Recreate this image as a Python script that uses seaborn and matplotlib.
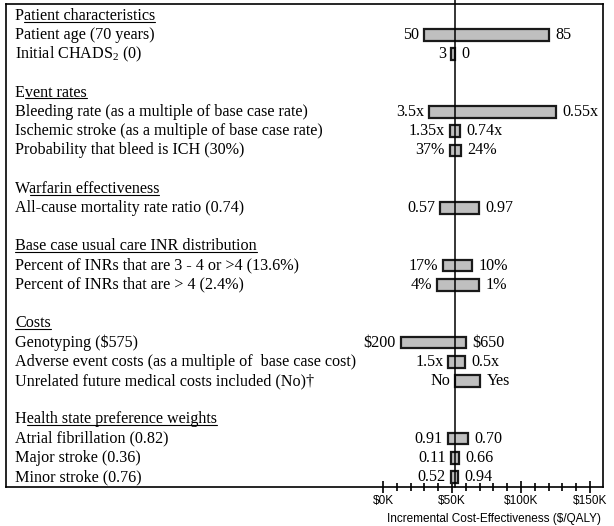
import numpy as np
import pandas as pd
import matplotlib
matplotlib.use("Agg")
import matplotlib.pyplot as plt
from matplotlib.lines import Line2D
import seaborn as sns

# one-way sensitivity analysis (tornado), ICER in thousand $/QALY
groups = ["Patient characteristics", "Event rates", "Warfarin effectiveness",
          "Base case usual care INR distribution", "Costs",
          "Health state preference weights"]
group_size = [2, 3, 1, 2, 3, 3]
params = ["Patient age (70 years)",
          r"Initial CHADS$_{\mathregular{2}}$ (0)",
          "Bleeding rate (as a multiple of base case rate)",
          "Ischemic stroke (as a multiple of base case rate)",
          "Probability that bleed is ICH (30%)",
          "All-cause mortality rate ratio (0.74)",
          "Percent of INRs that are 3 - 4 or >4 (13.6%)",
          "Percent of INRs that are > 4 (2.4%)",
          r"Genotyping (\$575)",
          "Adverse event costs (as a multiple of  base case cost)",
          "Unrelated future medical costs included (No)\u2020",
          "Atrial fibrillation (0.82)",
          "Major stroke (0.36)",
          "Minor stroke (0.76)"]
icer_lo = [29.5, 49.2, 33.2, 48.4, 48.4, 41.2, 43.7, 39.3, 12.7, 47.3, 52.2, 46.8, 49.0, 49.0]
icer_hi = [120.6, 52.2, 125.7, 56.1, 56.6, 69.9, 64.6, 69.4, 60.3, 59.5, 70.6, 61.9, 54.9, 54.2]
lo_text = ["50", "3", "3.5x", "1.35x", "37%", "0.57", "17%", "4%", r"\$200",
           "1.5x", "No", "0.91", "0.11", "0.52"]
hi_text = ["85", "0", "0.55x", "0.74x", "24%", "0.97", "10%", "1%", r"\$650",
           "0.5x", "Yes", "0.70", "0.66", "0.94"]
base_icer = 52.2
major_ticks = [0, 50, 100, 150]
tick_text = [r"\$0K", r"\$50K", r"\$100K", r"\$150K"]
underline_after_first = [True, True, True, False, False, True]

sns.set_style("white")
plt.rcParams["font.family"] = ["Liberation Serif", "DejaVu Serif"]
plt.rcParams["mathtext.fontset"] = "custom"
plt.rcParams["mathtext.rm"] = "Liberation Serif"
plt.rcParams["text.color"] = "black"

# row layout: header, parameters, blank line
header_rows = []
param_rows = []
r = 0
for n in group_size:
    header_rows.append(r)
    param_rows += list(range(r + 1, r + 1 + n))
    r += n + 2

df = pd.DataFrame({"param": params, "lo": icer_lo, "hi": icer_hi,
                   "lo_text": lo_text, "hi_text": hi_text, "row": param_rows})

W, H = 614, 526
fig = plt.figure(figsize=(W / 100, H / 100), dpi=100)
ax = fig.add_axes([6 / W, 1 - 486.7 / H, 597 / W, 482.7 / H])

ax.barh(df["row"], df["hi"] - df["lo"], left=df["lo"], height=0.6,
        color="#bfbfbf", edgecolor="#1a1a1a", linewidth=1.6, zorder=2)
ax.axvline(base_icer, ymin=0, ymax=1 + 4 / 482.7, color="black", lw=1.1,
           clip_on=False, zorder=3)

fs = 11.6
for _, d in df.iterrows():
    ax.annotate(d["lo_text"], (d["lo"], d["row"]), xytext=(-3.5, 0),
                textcoords="offset points", ha="right", va="center", fontsize=fs)
    ax.annotate(d["hi_text"], (d["hi"], d["row"]), xytext=(4.5, 0),
                textcoords="offset points", ha="left", va="center", fontsize=fs)

trans = ax.get_yaxis_transform()
for p, rr in zip(params, param_rows):
    ax.text(0.015, rr, p, transform=trans, ha="left", va="center", fontsize=fs)
head_texts = []
for g, rr in zip(groups, header_rows):
    head_texts.append(ax.text(0.015, rr, g, transform=trans, ha="left",
                              va="center", fontsize=fs))

ax.set_xlim(-273.2, 159.4)
ax.set_ylim(24.5, -0.61)
ax.set_yticks([])
ax.set_xticks(major_ticks)
ax.set_xticklabels(tick_text)
ax.set_xticks([v for v in range(0, 151, 10) if v % 50], minor=True)
ax.tick_params(axis="x", which="both", bottom=True, top=False)
ax.tick_params(axis="x", which="major", direction="inout", length=8, width=1.2,
               colors="black", labelsize=8.5, pad=2, labelfontfamily="Liberation Sans")
ax.tick_params(axis="x", which="minor", direction="inout", length=6, width=1.2,
               colors="black")
for s in ax.spines.values():
    s.set_color("black")
    s.set_linewidth(1.2)
    s.set_visible(True)

ax.set_xlabel("Incremental Cost-Effectiveness ($/QALY)", fontsize=8.5,
              family="Liberation Sans", color="black")
ax.xaxis.set_label_coords(0.817, -0.055)
ax.xaxis.label.set_va("top")

# underline the group headers
fig.canvas.draw()
rend = fig.canvas.get_renderer()
for t, skip in zip(head_texts, underline_after_first):
    bb = t.get_window_extent(rend)
    x0 = bb.x0
    if skip:
        first = fig.text(0, 0, t.get_text()[0], fontsize=fs)
        x0 += first.get_window_extent(rend).width
        first.remove()
    y = bb.y0 + 2.2
    fig.add_artist(Line2D([x0 / W, bb.x1 / W], [y / H, y / H], color="black",
                          lw=0.8, transform=fig.transFigure))

fig.savefig("out.png", dpi=100)
